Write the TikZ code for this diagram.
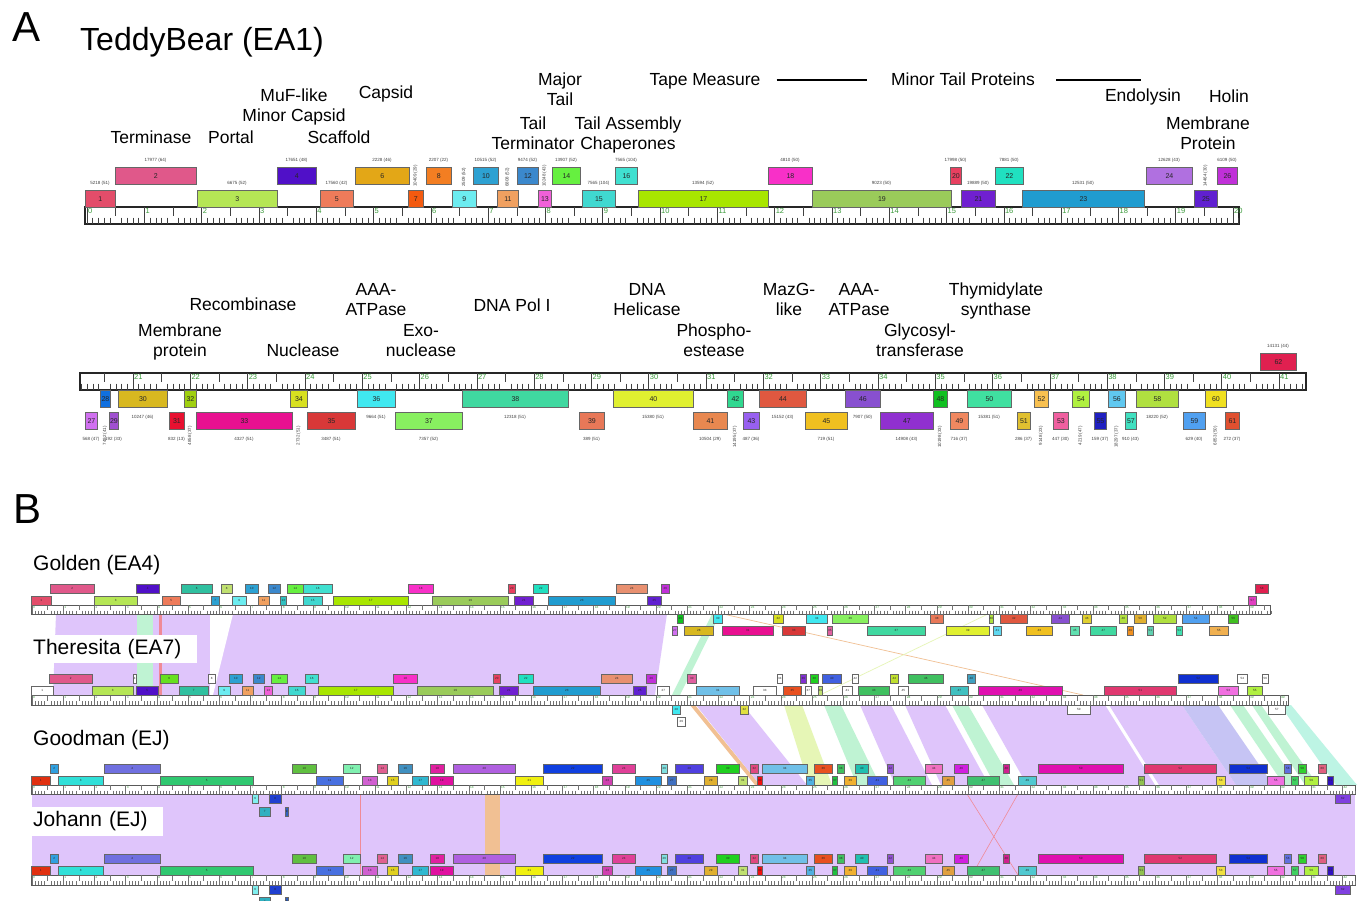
\documentclass[tikz,border=0pt]{standalone}
\usepackage{fontspec}
\setmainfont{Liberation Sans}
\usepackage{xcolor}
\usetikzlibrary{calc,positioning}
\definecolor{rulegreen}{HTML}{3A9A3A}
\definecolor{bandpurple}{HTML}{DFC5FB}
\definecolor{bandgreen}{HTML}{BFF3D3}
\definecolor{bandorange}{HTML}{F1C093}
\definecolor{bandyellow}{HTML}{E6F6B6}
\definecolor{bandblue}{HTML}{C6C4F4}
\definecolor{bandmint}{HTML}{BDF4E4}
\definecolor{bandred}{HTML}{F08A96}
\tikzset{
  genebox/.style={draw=black!60,line width=0.8pt,inner sep=0pt,anchor=north west,text=black!85},
  genelab/.style={font=\fontsize{4.5}{5}\selectfont,text=black!75,inner sep=0pt},
  funclab/.style={font=\fontsize{17.5}{20}\selectfont,align=center,anchor=base,inner sep=0pt},
  rulerbox/.style={draw=black!85,line width=1.1pt,fill=white},
  tickmark/.style={draw=black!75,line width=0.5pt},
  rulenum/.style={text=rulegreen,inner sep=0pt,anchor=north west},
  btitle/.style={font=\fontsize{21}{24}\selectfont,anchor=base west,inner sep=0pt},
  paneltag/.style={font=\fontsize{42}{48}\selectfont,anchor=base west,inner sep=0pt}
}
% ruler: x of 0 kb, px per kb, first/last tenth, box left/right, top y, height, number font
\newcommand\drawruler[9]{%
  \draw[rulerbox] (#5,#7) rectangle (#6,#7+#8);
  \foreach \tn in {#3,...,#4}{%
    \pgfmathsetmacro\xx{#1+#2*(\tn/10)}%
    \pgfmathtruncatemacro\mten{mod(\tn,10)}%
    \pgfmathtruncatemacro\mfive{mod(\tn,5)}%
    \ifnum\mten=0
      \draw[tickmark] (\xx,#7) -- (\xx,#7+#8);
      \pgfmathtruncatemacro\kb{\tn/10}%
      \node[rulenum,font=#9] at (\xx+1,#7+1) {\kb};
    \else\ifnum\mfive=0
      \draw[tickmark] (\xx,#7) -- (\xx,#7+0.55*#8);
    \else
      \draw[tickmark] (\xx,#7+0.62*#8) -- (\xx,#7+#8);
    \fi\fi
  }%
}
% panel A genes: list, top y, label y, rotated anchor, rotated y
\newcommand\generowA[5]{%
  \foreach \n/\xa/\xb/\col/\lab/\rot in #1 {%
    \pgfmathsetmacro\w{\xb-\xa}%
    \pgfmathsetmacro\xm{(\xa+\xb)/2}%
    \edef\tmp{\noexpand\definecolor{gc}{HTML}{\col}}\tmp
    \node[genebox,fill=gc,minimum width=\w pt,minimum height=17pt,font=\fontsize{7}{8}\selectfont] (a\n) at (\xa,#2) {\n};
    \ifnum\rot=0
      \node[genelab] at (\xm,#3) {\lab};
    \else
      \node[genelab,rotate=90,#4] at (\xm,#5) {\lab};
    \fi
  }%
}
% panel B genes: name prefix, list, top y
\newcommand\generow[3]{%
  \foreach \n/\xa/\xb/\col in #2 {%
    \pgfmathsetmacro\w{\xb-\xa}%
    \edef\tmp{\noexpand\definecolor{gc}{HTML}{\col}}\tmp
    \node[genebox,line width=0.6pt,fill=gc,minimum width=\w pt,minimum height=8.5pt,font=\fontsize{3}{3}\selectfont] (#1\n) at (\xa,#3) {\n};
  }%
}
% TeddyBear
\def\teddyup{2/115/196/E0588A/17977 (64)/0, 4/277/316/5010C8/17651 (48)/0, 6/355/409/E3A717/2228 (46)/0,
  8/426/451/F37E22/2207 (22)/0, 10/473/498/2DA1D2/10515 (52)/0, 12/517/538/3B88CC/9474 (52)/0,
  14/552/580/66F040/13907 (52)/0, 16/615/637/40E0D0/7565 (104)/0, 18/768/812/F830C8/4810 (50)/0,
  20/950/961/E84060/17998 (50)/0, 22/995/1023/20E0C0/7881 (50)/0, 24/1146/1192/B070E0/12628 (43)/0,
  26/1217/1237/C030D8/6109 (50)/0}
\def\teddylow{1/85/115/E34D6A/5218 (51)/0, 3/197/277/B5E655/6675 (52)/0, 5/320/353/EE7B5A/17560 (42)/0,
  7/408/423/F35A10/10409 (29)/1, 9/452/476/6CECF0/2509 (52)/1, 11/497/518/F0A060/6808 (52)/1,
  13/538/551/F060D8/10248 (43)/1, 15/582/615/40D8D0/7565 (104)/0, 17/638/768/A8E600/13594 (52)/0,
  19/812/951/9ACB5A/9023 (50)/0, 21/961/995/7020D0/19889 (50)/0, 23/1022/1144/209CD0/12531 (50)/0,
  25/1194/1217/6020D0/14464 (30)/1}
\def\teddyrone{28/100/110/1070E0/7492 (41)/1, 30/118/167/D8B820/10247 (46)/0, 32/184/196/A0D010/4858 (37)/1,
  34/290/307/D8E020/2732 (51)/1, 36/357/395/40E8F0/9664 (51)/0, 38/462/568/40D8A0/12318 (51)/0,
  40/613/693/E0F030/15380 (51)/0, 42/727/743/30D890/14195 (37)/1, 44/759/806/E05840/15152 (43)/0,
  46/845/880/8850D0/7907 (50)/0, 48/933/947/10C020/10198 (33)/1, 50/967/1011/40E0A0/15381 (51)/0,
  52/1034/1048/F8C050/9148 (23)/1, 54/1072/1089/B0F040/4219 (47)/1, 56/1108/1125/60C8F0/18297 (37)/1,
  58/1136/1178/B0E040/18220 (52)/0, 60/1205/1226/F0E020/6853 (50)/1}
\def\teddyrtwo{27/85/97/D070F0/568 (47)/0, 29/109/118/A050D0/192 (33)/0, 31/169/184/E81030/832 (13)/0,
  33/196/292/E81090/4327 (51)/0, 35/307/355/D83838/3487 (51)/0, 37/395/462/88F060/7357 (52)/0,
  39/579/604/E87858/389 (51)/0, 41/693/727/E88850/10504 (29)/0, 43/743/759/9860F0/487 (36)/0,
  45/805/847/F0C020/719 (51)/0, 47/880/933/9030D0/14908 (43)/0, 49/950/968/F08860/716 (37)/0,
  51/1017/1030/E0C030/286 (37)/0, 53/1053/1068/F060A0/447 (30)/0, 55/1094/1106/2020C0/159 (37)/0,
  57/1125/1136/40E0C0/910 (43)/0, 59/1183/1205/50A0F0/629 (40)/0, 61/1225/1239/E05030/272 (37)/0}
% Golden
\def\goldup{2/50/94/E0588A, 4/136/159/5010C8, 6/181/212/30C0A0, 8/221/232/C0E070, 10/245/258/2DA1D2,
  12/268/280/3B88CC, 14/287/303/66F040, 16/303/332/40E0D0, 18/408/433/F830C8, 20/508/515/E84060,
  22/533/548/20E0C0, 24/616/647/E89070, 26/661/669/C030D8, 58/1255/1268/E02050}
\def\goldlow{1/31/51/E34D6A, 3/94/137/B5E655, 5/162/180/EE7B5A, 7/211/219/2DA1D2, 9/232/246/6CECF0,
  11/258/269/F0A060, 13/280/286/30C0C0, 15/303/322/40D8D0, 17/333/408/A8E600, 19/432/508/9ACB5A,
  21/514/533/7020D0, 23/548/615/209CD0, 25/647/661/6020D0, 57/1248/1256/E040C0}
\def\goldrone{29/677/683/10C020, 30/713/722/40E8F0, 32/773/783/D8E020, 34/806/827/40E8F0, 36/832/868/88F060,
  38/930/943/E87858, 40/989/993/B0E040, 42/1000/1027/E05840, 44/1051/1069/8850D0, 46/1082/1091/E0D030,
  48/1119/1127/B0E040, 50/1134/1146/E0B030, 52/1153/1176/B0E040, 54/1182/1209/50A0F0, 56/1228/1238/40C020}
\def\goldrtwo{27/672/677/D070F0, 28/684/713/D8B820, 31/722/773/E81090, 33/782/805/D83838, 35/827/832/E060A0,
  37/867/925/40D8A0, 39/946/989/E0F030, 41/993/1001/60D8F0, 43/1026/1052/F0C020, 45/1070/1079/60E0B0,
  47/1090/1116/40D8A0, 49/1127/1133/F09020, 51/1147/1153/60D0B0, 53/1176/1182/40E0B0, 55/1209/1228/F0B050}
% Theresita
\def\therup{2/49/92/E0588A, 4/133/136/FFFFFF, 6/160/178/66E020, 8/208/215/FFFFFF, 10/229/242/2DA1D2,
  12/253/264/3B88CC, 14/271/287/66F040, 16/305/318/40E0D0, 18/393/417/F830C8, 20/493/500/E84060,
  22/518/533/20E0C0, 24/601/632/E89070, 26/646/656/C030D8, 30/687/696/E060A0, 34/777/782/FFFFFF,
  36/800/806/8030D0, 38/810/818/20D020, 40/822/841/4060E0, 42/852/858/FFFFFF, 44/890/898/C0E030,
  46/908/943/40C060, 48/967/975/40A0C0, 52/1178/1218/1030D0, 54/1237/1247/FFFFFF, 56/1262/1268/FFFFFF}
\def\therlow{1/31/53/FFFFFF, 3/92/133/B5E655, 5/136/158/5010C8, 7/179/208/30C0A0, 9/218/230/6CECF0,
  11/242/253/F0A060, 13/264/272/F060D8, 15/288/305/40D8D0, 17/318/393/A8E600, 19/417/493/9ACB5A,
  21/499/518/7020D0, 23/533/600/209CD0, 25/633/646/6020D0, 27/657/669/FFFFFF, 31/696/739/70C0E8,
  33/753/776/FFFFFF, 35/783/801/E85020, 37/805/811/FFFFFF, 39/818/822/C0E070, 41/842/852/FFFFFF,
  43/858/889/40C060, 45/898/908/FFFFFF, 47/950/968/40C0C0, 49/978/1062/E010B0, 51/1104/1176/E03870,
  53/1218/1238/F070E0, 55/1247/1262/B0F040}
\def\therrone{28/672/680/40E8F0, 32/740/748/E0E040, 50/1067/1090/FFFFFF, 57/1268/1285/FFFFFF}
\def\therrtwo{29/677/685/FFFFFF}
% Goodman and Johann
\def\ejup{2/50/58/30A0E0, 4/104/160/7070E0, 10/292/316/60C040, 12/343/360/80F0B0, 14/377/387/E06090,
  16/398/412/4090C0, 18/430/444/E020A0, 20/453/515/B060E0, 22/543/602/1040E0, 24/612/635/E04098,
  26/661/667/80E0E0, 28/675/703/5040E0, 30/716/739/20D020, 32/750/758/E04880, 34/762/807/70C0E8,
  36/814/832/E85020, 38/837/844/40C060, 40/855/868/20C0B0, 42/887/893/9050D0, 44/925/942/F070C0,
  46/954/968/D020E0, 48/1003/1009/D02090, 50/1038/1123/E010B0, 52/1144/1216/E03870, 54/1229/1267/1030D0,
  56/1284/1291/6070E0, 58/1298/1306/30D030, 60/1318/1326/E06080}
\def\ejlow{1/31/50/E03010, 3/58/103/30E0D8, 5/160/253/30C870, 11/316/343/4870E0, 13/362/377/D060D0,
  15/387/398/E0D020, 17/412/428/30B8D0, 19/430/453/E010A0, 21/515/543/F0F010, 23/602/612/D040B0,
  25/635/661/2090E0, 27/667/676/4070C0, 29/704/717/E0B030, 31/738/747/C0E070, 33/757/762/F01010,
  35/806/814/50B0E0, 37/832/837/20C040, 39/844/856/F0B030, 41/867/887/4060E0, 43/893/925/50D070,
  45/942/954/E0A040, 47/967/999/40C070, 49/1018/1036/50C8D0, 51/1138/1144/90C050, 53/1216/1225/F0E040,
  55/1267/1284/F070E0, 57/1291/1298/40D060, 59/1304/1318/B0F040, 61/1327/1333/3010C0}
\def\ejrone{6/252/258/80F0F0, 8/269/281/2040D0, 62/1335/1350/8040E0}
\def\ejrtwo{7/259/270/30B0C0, 9/285/288/3060C0}

\begin{document}
\begin{tikzpicture}[x=1pt,y=-1pt]
  \useasboundingbox (0,0) rectangle (1361,901);
  \fill[white] (0,0) rectangle (1361,901);

  % ---- panel A ----
  \node[paneltag] (tagA) at (12,42) {A};
  \node[font=\fontsize{32}{38}\selectfont,anchor=base west,inner sep=0pt] (teddy) at (80,51) {TeddyBear (EA1)};

  % two-line labels: base = last line
  \node[funclab] (term) at (151,144) {Terminase};
  \node[funclab] (portal) at (231,144) {Portal};
  \node[funclab] (muf) at (294,122) {MuF-like\\Minor Capsid};
  \node[funclab] (capsid) at (386,99) {Capsid};
  \node[funclab] (scaf) at (339,144) {Scaffold};
  \node[funclab] (mtail) at (560,106) {Major\\Tail};
  \node[funclab] (tterm) at (533,150) {Tail\\Terminator};
  \node[funclab] (tchap) at (628,150) {Tail Assembly\\Chaperones};
  \node[funclab] (tape) at (705,86) {Tape Measure};
  \node[funclab] (mtp) at (963,86) {Minor Tail Proteins};
  \coordinate (mtpend) at (1141,80);
  \draw[line width=1.1pt] ([xshift=16pt,yshift=6pt]tape.base east) -- ([xshift=-24pt,yshift=6pt]mtp.base west);
  \draw[line width=1.1pt] ([xshift=21pt,yshift=6pt]mtp.base east) -- (mtpend);
  \node[funclab] (endo) at (1143,102) {Endolysin};
  \node[funclab] (holin) at (1229,103) {Holin};
  \node[funclab] (memb) at (1208,150) {Membrane\\Protein};

  \node[funclab] (recomb) at (243,311) {Recombinase};
  \node[funclab] (membp) at (180,357) {Membrane\\protein};
  \node[funclab] (nucl) at (303,357) {Nuclease};
  \node[funclab] (aaa) at (376,316) {AAA-\\ATPase};
  \node[funclab] (exo) at (421,357) {Exo-\\nuclease};
  \node[funclab] (pol) at (512,312) {DNA Pol I};
  \node[funclab] (heli) at (647,316) {DNA\\Helicase};
  \node[funclab] (phos) at (714,357) {Phospho-\\estease};
  \node[funclab] (mazg) at (789,316) {MazG-\\like};
  \node[funclab] (aaab) at (859,316) {AAA-\\ATPase};
  \node[funclab] (glyc) at (920,357) {Glycosyl-\\transferase};
  \node[funclab] (thym) at (996,316) {Thymidylate\\synthase};

  \drawruler{87}{57.3}{0}{201}{85}{1239}{207}{17}{\fontsize{7.5}{8}\selectfont}
  \drawruler{-1070.3}{57.3}{201}{414}{80}{1306}{373}{17}{\fontsize{7.5}{8}\selectfont}
  \generowA{\teddyup}{167}{160}{anchor=west}{163}
  \generowA{\teddylow}{190}{183}{anchor=west}{187}
  \generowA{{62/1260/1296/E02050/14131 (44)/0}}{353}{346}{anchor=west}{350}
  \generowA{\teddyrone}{390}{417}{anchor=east}{426}
  \generowA{\teddyrtwo}{412}{439}{anchor=east}{426}

  % ---- panel B ----
  \node[paneltag] (tagB) at (13,523) {B};

  % Golden -> Theresita
  \fill[bandpurple] (56,614) -- (667,614) -- (655,695) -- (53,695) -- cycle;
  \fill[bandgreen] (137,614) rectangle (153,695);
  \fill[bandred] (159,614) rectangle (162,695);
  \fill[white] (210,614) -- (233,614) -- (213,695) -- (210,695) -- cycle;
  \fill[bandgreen] (712,614) -- (720,614) -- (680,695) -- (672,695) -- cycle;
  \draw[bandorange,line width=0.7pt] (723,614) -- (1083,695);
  \draw[bandyellow,line width=0.7pt] (988,614) -- (820,695);
  % Theresita -> Goodman
  \foreach \ta/\tb/\ba/\bb/\col in {690/695/755/760/bandorange, 696/743/760/807/bandpurple,
      784/802/809/832/bandyellow, 824/841/857/880/bandgreen, 860/891/895/932/bandpurple,
      905/945/941/989/bandpurple, 952/968/995/1014/bandgreen, 982/1105/1027/1155/bandpurple,
      1109/1182/1159/1236/bandpurple, 1182/1218/1236/1273/bandblue, 1230/1243/1284/1298/bandgreen,
      1252/1261/1305/1318/bandgreen, 1280/1291/1336/1357/bandmint}
    \fill[\col] (\ta,705) -- (\tb,705) -- (\bb,785) -- (\ba,785) -- cycle;
  % Goodman -> Johann
  \fill[bandpurple] (32,794) rectangle (1355,875);
  \fill[bandorange] (485,794) rectangle (500,875);
  \fill[bandred] (359.5,794) rectangle (361,875);
  \draw[bandred,line width=0.6pt] (967,794) -- (1018,875);
  \draw[bandred,line width=0.6pt] (1018,794) -- (972,875);

  \node[btitle] (golden) at (33,570) {Golden (EA4)};
  \node[btitle,anchor=west,fill=white,text width=156pt,align=left,inner xsep=8pt,minimum height=28pt] (theresita) at (25,649) {Theresita (EA7)};
  \node[btitle] (goodman) at (33,745) {Goodman (EJ)};
  \node[btitle,anchor=west,fill=white,text width=128pt,align=left,inner xsep=2pt,minimum height=29pt] (johann) at (31,821) {Johann (EJ)};

  \begin{scope}[rulerbox/.append style={line width=0.8pt,draw=black!65},tickmark/.append style={line width=0.3pt,draw=black!55}]
    \drawruler{32}{31.2}{0}{397}{31}{1270}{605}{9}{\fontsize{3.2}{3.5}\selectfont}
    \drawruler{32}{31.2}{0}{402}{31}{1288}{695}{10}{\fontsize{3.2}{3.5}\selectfont}
    \drawruler{32}{31.2}{0}{424}{31}{1355}{785}{9}{\fontsize{3.2}{3.5}\selectfont}
    \drawruler{32}{31.2}{0}{424}{31}{1355}{875}{10}{\fontsize{3.2}{3.5}\selectfont}
  \end{scope}
  \generow{gd}{\goldup}{584}
  \generow{gd}{\goldlow}{596}
  \generow{gd}{\goldrone}{614}
  \generow{gd}{\goldrtwo}{626}
  \generow{th}{\therup}{674}
  \generow{th}{\therlow}{686}
  \generow{th}{\therrone}{705}
  \generow{th}{\therrtwo}{717}
  \generow{gm}{\ejup}{764}
  \generow{gm}{\ejlow}{776}
  \generow{gm}{\ejrone}{794}
  \generow{gm}{\ejrtwo}{807}
  \generow{jo}{\ejup}{854}
  \generow{jo}{\ejlow}{866}
  \generow{jo}{\ejrone}{885}
  \generow{jo}{\ejrtwo}{897}
\end{tikzpicture}
\end{document}
